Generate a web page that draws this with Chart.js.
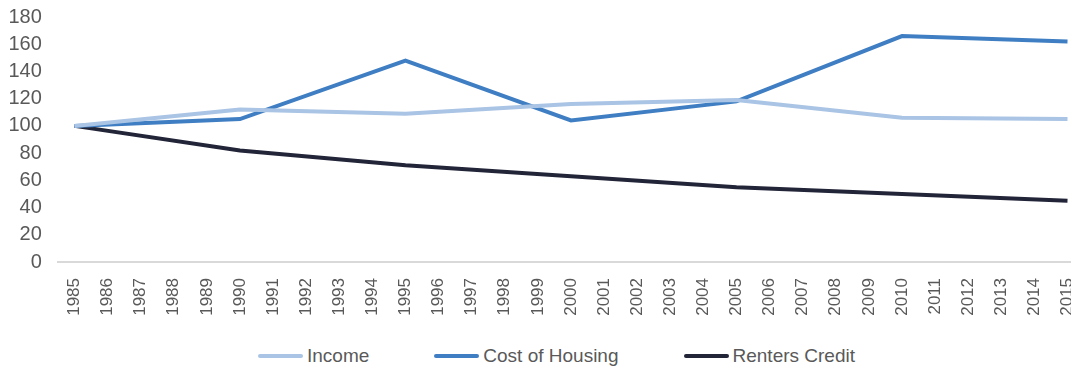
<!DOCTYPE html>
<html>
<head>
<meta charset="utf-8">
<script src="https://cdn.jsdelivr.net/npm/chart.js@4"></script>
<style>
  html, body { margin: 0; padding: 0; background: #fff; overflow: hidden; }
  #wrap { position: relative; width: 1071px; height: 369px; overflow: hidden; }
  #chart { position: absolute; left: 0; top: 0; }
  #legend { position: absolute; left: 258px; top: 345px; display: flex; gap: 65px;
            font: 19px 'Liberation Sans', Arial, sans-serif; color: #595959; }
  #legend .item { display: flex; align-items: center; gap: 4px; line-height: 22px; }
  #legend .box { width: 45px; height: 4px; border-radius: 2px; }
</style>
</head>
<body>
<div id="wrap">
  <canvas id="chart" width="1096" height="320"></canvas>
  <div id="legend"></div>
</div>
<script>
// years on the axis, values only every 5 years (lines join the gaps)
const years = [];
for (let y = 1985; y <= 2015; y++) years.push(String(y));

const keyYears = ["1985", "1990", "1995", "2000", "2005", "2010", "2015"];
const income = [100, 112, 109, 116, 119, 106, 105];
const costOfHousing = [100, 105, 148, 104, 118, 166, 162];
const rentersCredit = [100, 82, 71, 63, 55, 50, 45];

const yTicks = [0, 20, 40, 60, 80, 100, 120, 140, 160, 180];

function spread(vals) {
  return years.map((y) => {
    const i = keyYears.indexOf(y);
    return i >= 0 ? vals[i] : null;
  });
}

const TXT = "#595959";
const FONT = "'Liberation Sans', Arial, sans-serif";

// html legend built from the chart's datasets
const htmlLegend = {
  id: "htmlLegend",
  afterUpdate(chart) {
    const box = document.getElementById("legend");
    box.innerHTML = "";
    chart.data.datasets.forEach((ds) => {
      const item = document.createElement("div");
      item.className = "item";
      item.innerHTML = `<span class="box" style="background:${ds.borderColor}"></span><span>${ds.label}</span>`;
      box.appendChild(item);
    });
  },
};

new Chart(document.getElementById("chart"), {
  type: "line",
  data: {
    labels: years,
    datasets: [
      { label: "Income", data: spread(income), borderColor: "#a9c4e4" },
      { label: "Cost of Housing", data: spread(costOfHousing), borderColor: "#3f7ec2" },
      { label: "Renters Credit", data: spread(rentersCredit), borderColor: "#222438" },
    ].map((d) => ({ ...d, borderWidth: 4, pointRadius: 0, tension: 0, spanGaps: true, fill: false })),
  },
  plugins: [htmlLegend],
  options: {
    responsive: false,
    animation: false,
    layout: { padding: { left: 8.5, top: 17, right: 6, bottom: 0 } },
    plugins: {
      tooltip: { enabled: false },
      legend: { display: false },
    },
    scales: {
      x: {
        offset: true,
        grid: { display: false },
        border: { color: "#d9d9d9", width: 2 },
        afterFit: (axis) => { axis.height = 58; },
        ticks: {
          color: TXT,
          font: { family: FONT, size: 17 },
          minRotation: 90,
          maxRotation: 90,
          autoSkip: false,
          padding: 8,
        },
      },
      y: {
        min: 0,
        max: 180,
        afterBuildTicks: (axis) => { axis.ticks = yTicks.map((v) => ({ value: v })); },
        grid: { display: false, drawTicks: true, tickLength: 16 },
        border: { display: false },
        ticks: {
          color: TXT,
          font: { family: FONT, size: 20 },
          padding: 0,
          autoSkip: false,
        },
      },
    },
  },
});
</script>
</body>
</html>
